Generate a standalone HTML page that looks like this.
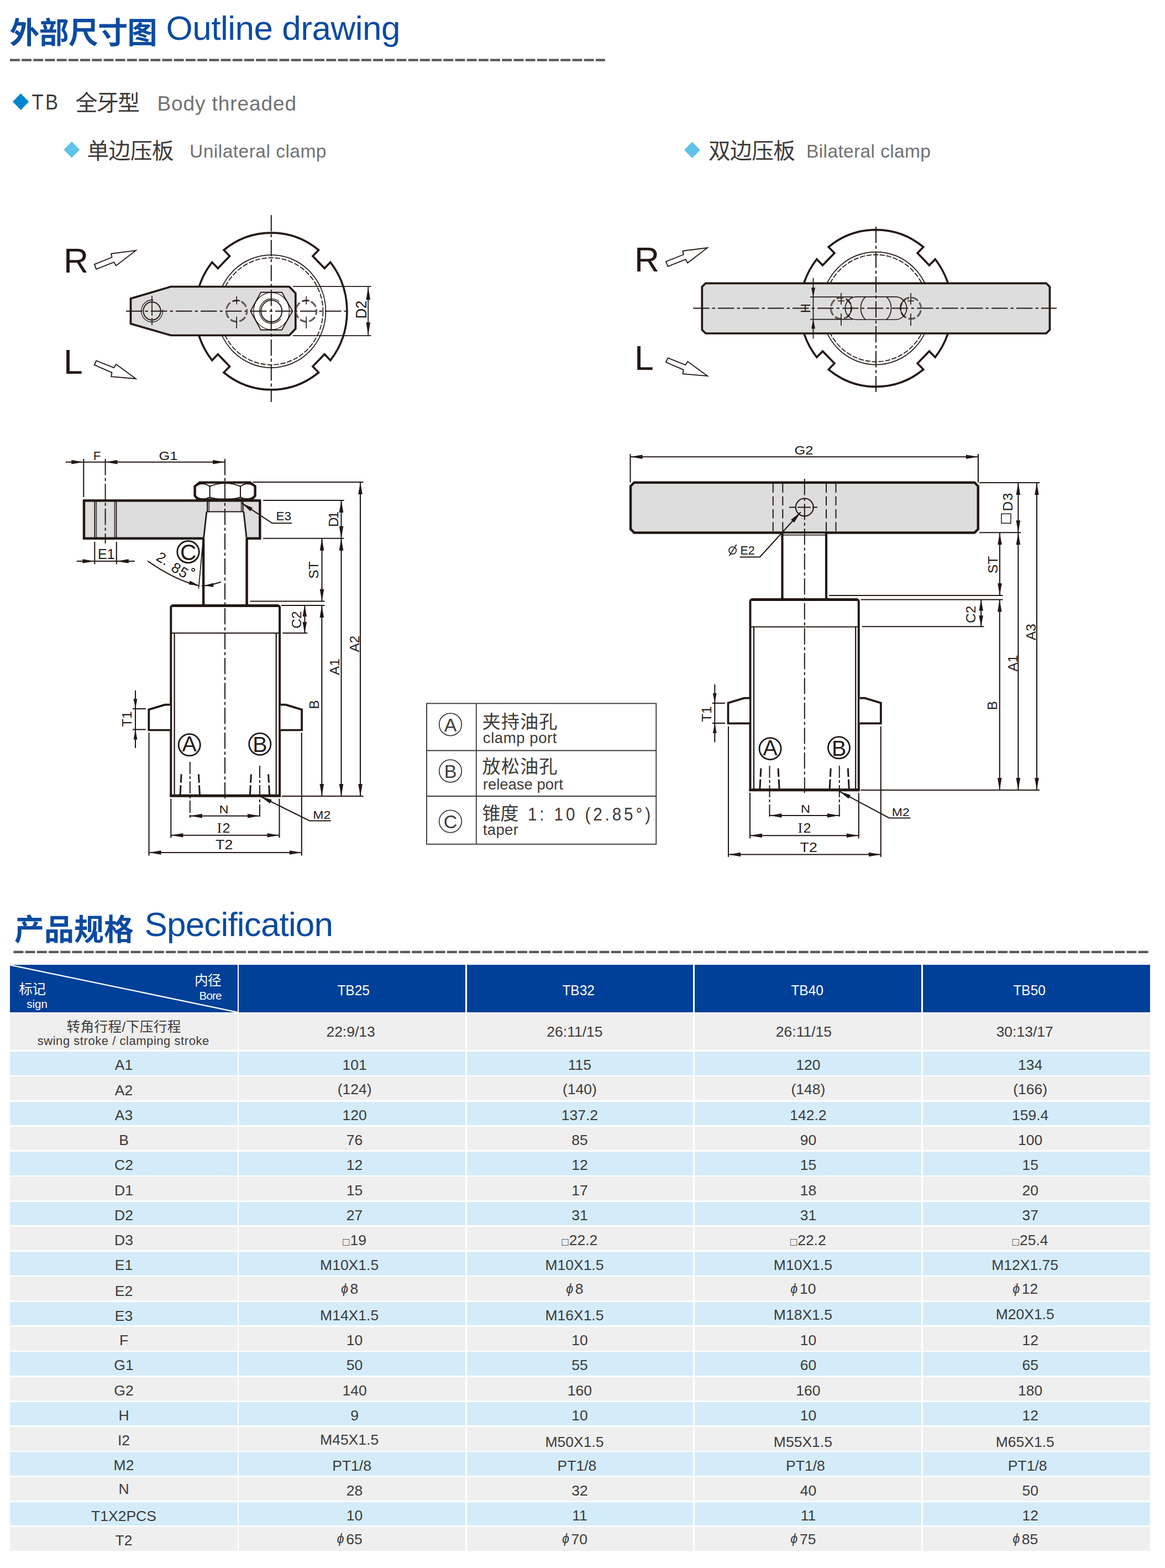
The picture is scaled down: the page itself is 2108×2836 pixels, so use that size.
<!DOCTYPE html>
<html lang="zh"><head><meta charset="utf-8"><title>TB Outline drawing / Specification</title>
<style>
html,body{margin:0;padding:0;background:#fff;}
body{width:2108px;height:2836px;position:relative;overflow:hidden;font-family:"Liberation Sans","Noto Sans CJK SC",sans-serif;color:#3e3a39;}
#page{position:absolute;left:0;top:0;width:2108px;height:2836px;}
#ov{position:absolute;left:0;top:0;}
#ov text{font-family:"Liberation Sans","Noto Sans CJK SC",sans-serif;}
.r{position:absolute;left:18px;width:2063px;}
.c{position:absolute;top:0;height:100%;display:flex;align-items:center;justify-content:center;font-size:26.5px;white-space:nowrap;}
.g .c{background:#efefef;}
.b .c{background:#d4ecfa;}
.h .c{background:#004098;color:#fff;}
.c span{position:relative;display:inline-block;}
.p{font-size:23.5px;margin-right:3.5px;position:relative;top:-1.5px;}
.m{font-weight:normal;}
.h .c span{transform:scaleX(.925);}
.q{font-style:normal;font-size:20px;margin-right:1px;position:relative;top:0.5px;}
</style></head><body>
<div id="page">
<div class="r h" style="top:1745.3px;height:85.5px"><div class="c" style="left:0.2px;width:411.7px;padding-top:7px;box-sizing:border-box;font-size:26.5px;"><span></span></div><div class="c" style="left:414px;width:410.4px;padding-top:7px;box-sizing:border-box;font-size:26.5px;"><span style="left:2.4px;top:0px">TB25</span></div><div class="c" style="left:827.1px;width:409.1px;padding-top:7px;box-sizing:border-box;font-size:26.5px;"><span style="left:-2.7px;top:0px">TB32</span></div><div class="c" style="left:1238.8px;width:410.4px;padding-top:7px;box-sizing:border-box;font-size:26.5px;"><span style="left:-1.6px;top:0px">TB40</span></div><div class="c" style="left:1652px;width:411px;padding-top:7px;box-sizing:border-box;font-size:26.5px;"><span style="left:-13.3px;top:0px">TB50</span></div></div>
<div class="r g" style="top:1833.6px;height:65.5px"><div class="c" style="left:0.2px;width:411.7px;padding-top:1px;box-sizing:border-box;font-size:26.5px;"><span></span></div><div class="c" style="left:414px;width:410.4px;padding-top:1px;box-sizing:border-box;font-size:26.5px;"><span style="left:-2.6px;top:0px">22:9/13</span></div><div class="c" style="left:827.1px;width:409.1px;padding-top:1px;box-sizing:border-box;font-size:26.5px;"><span style="left:-9.7px;top:0px">26:11/15</span></div><div class="c" style="left:1238.8px;width:410.4px;padding-top:1px;box-sizing:border-box;font-size:26.5px;"><span style="left:-7.6px;top:0px">26:11/15</span></div><div class="c" style="left:1652px;width:411px;padding-top:1px;box-sizing:border-box;font-size:26.5px;"><span style="left:-21.3px;top:0px">30:13/17</span></div></div>
<div class="r b" style="top:1902px;height:42.6px"><div class="c" style="left:0.2px;width:411.7px;padding-top:7px;box-sizing:border-box;"><span>A1</span></div><div class="c" style="left:414px;width:410.4px;padding-top:7px;box-sizing:border-box;"><span style="left:4.4px;top:0px">101</span></div><div class="c" style="left:827.1px;width:409.1px;padding-top:7px;box-sizing:border-box;"><span style="left:-0.7px;top:0px">115</span></div><div class="c" style="left:1238.8px;width:410.4px;padding-top:7px;box-sizing:border-box;"><span style="left:0.4px;top:0px">120</span></div><div class="c" style="left:1652px;width:411px;padding-top:7px;box-sizing:border-box;"><span style="left:-11.3px;top:0px">134</span></div></div>
<div class="r g" style="top:1947.3px;height:42.6px"><div class="c" style="left:0.2px;width:411.7px;padding-top:7px;box-sizing:border-box;"><span>A2</span></div><div class="c" style="left:414px;width:410.4px;padding-top:7px;box-sizing:border-box;"><span style="left:4.4px;top:-2px">(124)</span></div><div class="c" style="left:827.1px;width:409.1px;padding-top:7px;box-sizing:border-box;"><span style="left:-0.7px;top:-2px">(140)</span></div><div class="c" style="left:1238.8px;width:410.4px;padding-top:7px;box-sizing:border-box;"><span style="left:0.4px;top:-2px">(148)</span></div><div class="c" style="left:1652px;width:411px;padding-top:7px;box-sizing:border-box;"><span style="left:-11.3px;top:-2px">(166)</span></div></div>
<div class="r b" style="top:1992.5px;height:42.6px"><div class="c" style="left:0.2px;width:411.7px;padding-top:7px;box-sizing:border-box;"><span>A3</span></div><div class="c" style="left:414px;width:410.4px;padding-top:7px;box-sizing:border-box;"><span style="left:4.4px;top:0px">120</span></div><div class="c" style="left:827.1px;width:409.1px;padding-top:7px;box-sizing:border-box;"><span style="left:-0.7px;top:0px">137.2</span></div><div class="c" style="left:1238.8px;width:410.4px;padding-top:7px;box-sizing:border-box;"><span style="left:0.4px;top:0px">142.2</span></div><div class="c" style="left:1652px;width:411px;padding-top:7px;box-sizing:border-box;"><span style="left:-11.3px;top:0px">159.4</span></div></div>
<div class="r g" style="top:2037.8px;height:42.6px"><div class="c" style="left:0.2px;width:411.7px;padding-top:7px;box-sizing:border-box;"><span>B</span></div><div class="c" style="left:414px;width:410.4px;padding-top:7px;box-sizing:border-box;"><span style="left:4.4px;top:0px">76</span></div><div class="c" style="left:827.1px;width:409.1px;padding-top:7px;box-sizing:border-box;"><span style="left:-0.7px;top:0px">85</span></div><div class="c" style="left:1238.8px;width:410.4px;padding-top:7px;box-sizing:border-box;"><span style="left:0.4px;top:0px">90</span></div><div class="c" style="left:1652px;width:411px;padding-top:7px;box-sizing:border-box;"><span style="left:-11.3px;top:0px">100</span></div></div>
<div class="r b" style="top:2083.1px;height:42.6px"><div class="c" style="left:0.2px;width:411.7px;padding-top:7px;box-sizing:border-box;"><span>C2</span></div><div class="c" style="left:414px;width:410.4px;padding-top:7px;box-sizing:border-box;"><span style="left:4.4px;top:0px">12</span></div><div class="c" style="left:827.1px;width:409.1px;padding-top:7px;box-sizing:border-box;"><span style="left:-0.7px;top:0px">12</span></div><div class="c" style="left:1238.8px;width:410.4px;padding-top:7px;box-sizing:border-box;"><span style="left:0.4px;top:0px">15</span></div><div class="c" style="left:1652px;width:411px;padding-top:7px;box-sizing:border-box;"><span style="left:-11.3px;top:0px">15</span></div></div>
<div class="r g" style="top:2128.3px;height:42.6px"><div class="c" style="left:0.2px;width:411.7px;padding-top:7px;box-sizing:border-box;"><span>D1</span></div><div class="c" style="left:414px;width:410.4px;padding-top:7px;box-sizing:border-box;"><span style="left:4.4px;top:0px">15</span></div><div class="c" style="left:827.1px;width:409.1px;padding-top:7px;box-sizing:border-box;"><span style="left:-0.7px;top:0px">17</span></div><div class="c" style="left:1238.8px;width:410.4px;padding-top:7px;box-sizing:border-box;"><span style="left:0.4px;top:0px">18</span></div><div class="c" style="left:1652px;width:411px;padding-top:7px;box-sizing:border-box;"><span style="left:-11.3px;top:0px">20</span></div></div>
<div class="r b" style="top:2173.6px;height:42.6px"><div class="c" style="left:0.2px;width:411.7px;padding-top:7px;box-sizing:border-box;"><span>D2</span></div><div class="c" style="left:414px;width:410.4px;padding-top:7px;box-sizing:border-box;"><span style="left:4.4px;top:0px">27</span></div><div class="c" style="left:827.1px;width:409.1px;padding-top:7px;box-sizing:border-box;"><span style="left:-0.7px;top:0px">31</span></div><div class="c" style="left:1238.8px;width:410.4px;padding-top:7px;box-sizing:border-box;"><span style="left:0.4px;top:0px">31</span></div><div class="c" style="left:1652px;width:411px;padding-top:7px;box-sizing:border-box;"><span style="left:-11.3px;top:0px">37</span></div></div>
<div class="r g" style="top:2218.9px;height:42.6px"><div class="c" style="left:0.2px;width:411.7px;padding-top:7px;box-sizing:border-box;"><span>D3</span></div><div class="c" style="left:414px;width:410.4px;padding-top:7px;box-sizing:border-box;"><span style="left:4.4px;top:0px"><i class="q">□</i>19</span></div><div class="c" style="left:827.1px;width:409.1px;padding-top:7px;box-sizing:border-box;"><span style="left:-0.7px;top:0px"><i class="q">□</i>22.2</span></div><div class="c" style="left:1238.8px;width:410.4px;padding-top:7px;box-sizing:border-box;"><span style="left:0.4px;top:0px"><i class="q">□</i>22.2</span></div><div class="c" style="left:1652px;width:411px;padding-top:7px;box-sizing:border-box;"><span style="left:-11.3px;top:0px"><i class="q">□</i>25.4</span></div></div>
<div class="r b" style="top:2264.2px;height:42.6px"><div class="c" style="left:0.2px;width:411.7px;padding-top:7px;box-sizing:border-box;"><span>E1</span></div><div class="c" style="left:414px;width:410.4px;padding-top:7px;box-sizing:border-box;"><span style="left:-5.1px;top:0px"><b class="m">M10X1.5</b></span></div><div class="c" style="left:827.1px;width:409.1px;padding-top:7px;box-sizing:border-box;"><span style="left:-10.2px;top:0px"><b class="m">M10X1.5</b></span></div><div class="c" style="left:1238.8px;width:410.4px;padding-top:7px;box-sizing:border-box;"><span style="left:-9.1px;top:0px"><b class="m">M10X1.5</b></span></div><div class="c" style="left:1652px;width:411px;padding-top:7px;box-sizing:border-box;"><span style="left:-20.8px;top:0px"><b class="m">M12X1.75</b></span></div></div>
<div class="r g" style="top:2309.4px;height:42.6px"><div class="c" style="left:0.2px;width:411.7px;padding-top:7px;box-sizing:border-box;"><span style="left:0px;top:1px">E2</span></div><div class="c" style="left:414px;width:410.4px;padding-top:7px;box-sizing:border-box;"><span style="left:-4.6px;top:-2.5px"><i class="p">ϕ</i>8</span></div><div class="c" style="left:827.1px;width:409.1px;padding-top:7px;box-sizing:border-box;"><span style="left:-9.7px;top:-2.5px"><i class="p">ϕ</i>8</span></div><div class="c" style="left:1238.8px;width:410.4px;padding-top:7px;box-sizing:border-box;"><span style="left:-8.6px;top:-2.5px"><i class="p">ϕ</i>10</span></div><div class="c" style="left:1652px;width:411px;padding-top:7px;box-sizing:border-box;"><span style="left:-20.3px;top:-2.5px"><i class="p">ϕ</i>12</span></div></div>
<div class="r b" style="top:2354.7px;height:42.6px"><div class="c" style="left:0.2px;width:411.7px;padding-top:7px;box-sizing:border-box;"><span style="left:0px;top:1px">E3</span></div><div class="c" style="left:414px;width:410.4px;padding-top:7px;box-sizing:border-box;"><span style="left:-5.1px;top:0px"><b class="m">M14X1.5</b></span></div><div class="c" style="left:827.1px;width:409.1px;padding-top:7px;box-sizing:border-box;"><span style="left:-10.2px;top:0px"><b class="m">M16X1.5</b></span></div><div class="c" style="left:1238.8px;width:410.4px;padding-top:7px;box-sizing:border-box;"><span style="left:-9.1px;top:-1px"><b class="m">M18X1.5</b></span></div><div class="c" style="left:1652px;width:411px;padding-top:7px;box-sizing:border-box;"><span style="left:-20.8px;top:-1.5px"><b class="m">M20X1.5</b></span></div></div>
<div class="r g" style="top:2400px;height:42.6px"><div class="c" style="left:0.2px;width:411.7px;padding-top:7px;box-sizing:border-box;"><span>F</span></div><div class="c" style="left:414px;width:410.4px;padding-top:7px;box-sizing:border-box;"><span style="left:4.4px;top:0px">10</span></div><div class="c" style="left:827.1px;width:409.1px;padding-top:7px;box-sizing:border-box;"><span style="left:-0.7px;top:0px">10</span></div><div class="c" style="left:1238.8px;width:410.4px;padding-top:7px;box-sizing:border-box;"><span style="left:0.4px;top:0px">10</span></div><div class="c" style="left:1652px;width:411px;padding-top:7px;box-sizing:border-box;"><span style="left:-11.3px;top:0px">12</span></div></div>
<div class="r b" style="top:2445.2px;height:42.6px"><div class="c" style="left:0.2px;width:411.7px;padding-top:7px;box-sizing:border-box;"><span>G1</span></div><div class="c" style="left:414px;width:410.4px;padding-top:7px;box-sizing:border-box;"><span style="left:4.4px;top:0px">50</span></div><div class="c" style="left:827.1px;width:409.1px;padding-top:7px;box-sizing:border-box;"><span style="left:-0.7px;top:0px">55</span></div><div class="c" style="left:1238.8px;width:410.4px;padding-top:7px;box-sizing:border-box;"><span style="left:0.4px;top:0px">60</span></div><div class="c" style="left:1652px;width:411px;padding-top:7px;box-sizing:border-box;"><span style="left:-11.3px;top:0px">65</span></div></div>
<div class="r g" style="top:2490.5px;height:42.6px"><div class="c" style="left:0.2px;width:411.7px;padding-top:7px;box-sizing:border-box;"><span>G2</span></div><div class="c" style="left:414px;width:410.4px;padding-top:7px;box-sizing:border-box;"><span style="left:4.4px;top:0px">140</span></div><div class="c" style="left:827.1px;width:409.1px;padding-top:7px;box-sizing:border-box;"><span style="left:-0.7px;top:0px">160</span></div><div class="c" style="left:1238.8px;width:410.4px;padding-top:7px;box-sizing:border-box;"><span style="left:0.4px;top:0px">160</span></div><div class="c" style="left:1652px;width:411px;padding-top:7px;box-sizing:border-box;"><span style="left:-11.3px;top:0px">180</span></div></div>
<div class="r b" style="top:2535.8px;height:42.6px"><div class="c" style="left:0.2px;width:411.7px;padding-top:7px;box-sizing:border-box;"><span>H</span></div><div class="c" style="left:414px;width:410.4px;padding-top:7px;box-sizing:border-box;"><span style="left:4.4px;top:0px">9</span></div><div class="c" style="left:827.1px;width:409.1px;padding-top:7px;box-sizing:border-box;"><span style="left:-0.7px;top:0px">10</span></div><div class="c" style="left:1238.8px;width:410.4px;padding-top:7px;box-sizing:border-box;"><span style="left:0.4px;top:0px">10</span></div><div class="c" style="left:1652px;width:411px;padding-top:7px;box-sizing:border-box;"><span style="left:-11.3px;top:0px">12</span></div></div>
<div class="r g" style="top:2581.1px;height:42.6px"><div class="c" style="left:0.2px;width:411.7px;padding-top:7px;box-sizing:border-box;"><span>I2</span></div><div class="c" style="left:414px;width:410.4px;padding-top:7px;box-sizing:border-box;"><span style="left:-5.1px;top:-1px"><b class="m">M45X1.5</b></span></div><div class="c" style="left:827.1px;width:409.1px;padding-top:7px;box-sizing:border-box;"><span style="left:-10.2px;top:2.5px"><b class="m">M50X1.5</b></span></div><div class="c" style="left:1238.8px;width:410.4px;padding-top:7px;box-sizing:border-box;"><span style="left:-9.1px;top:2.5px"><b class="m">M55X1.5</b></span></div><div class="c" style="left:1652px;width:411px;padding-top:7px;box-sizing:border-box;"><span style="left:-20.8px;top:2.5px"><b class="m">M65X1.5</b></span></div></div>
<div class="r b" style="top:2626.3px;height:42.6px"><div class="c" style="left:0.2px;width:411.7px;padding-top:7px;box-sizing:border-box;"><span style="left:0px;top:-1px">M2</span></div><div class="c" style="left:414px;width:410.4px;padding-top:7px;box-sizing:border-box;"><span style="left:-0.6px;top:0px">PT1/8</span></div><div class="c" style="left:827.1px;width:409.1px;padding-top:7px;box-sizing:border-box;"><span style="left:-5.7px;top:0px">PT1/8</span></div><div class="c" style="left:1238.8px;width:410.4px;padding-top:7px;box-sizing:border-box;"><span style="left:-4.6px;top:0px">PT1/8</span></div><div class="c" style="left:1652px;width:411px;padding-top:7px;box-sizing:border-box;"><span style="left:-16.3px;top:0px">PT1/8</span></div></div>
<div class="r g" style="top:2671.6px;height:42.6px"><div class="c" style="left:0.2px;width:411.7px;padding-top:7px;box-sizing:border-box;"><span style="left:0px;top:-3px">N</span></div><div class="c" style="left:414px;width:410.4px;padding-top:7px;box-sizing:border-box;"><span style="left:4.4px;top:0px">28</span></div><div class="c" style="left:827.1px;width:409.1px;padding-top:7px;box-sizing:border-box;"><span style="left:-0.7px;top:0px">32</span></div><div class="c" style="left:1238.8px;width:410.4px;padding-top:7px;box-sizing:border-box;"><span style="left:0.4px;top:0px">40</span></div><div class="c" style="left:1652px;width:411px;padding-top:7px;box-sizing:border-box;"><span style="left:-11.3px;top:0px">50</span></div></div>
<div class="r b" style="top:2716.9px;height:42.6px"><div class="c" style="left:0.2px;width:411.7px;padding-top:7px;box-sizing:border-box;"><span style="left:0px;top:1px">T1X2PCS</span></div><div class="c" style="left:414px;width:410.4px;padding-top:7px;box-sizing:border-box;"><span style="left:4.4px;top:0px">10</span></div><div class="c" style="left:827.1px;width:409.1px;padding-top:7px;box-sizing:border-box;"><span style="left:-0.7px;top:0px">11</span></div><div class="c" style="left:1238.8px;width:410.4px;padding-top:7px;box-sizing:border-box;"><span style="left:0.4px;top:0px">11</span></div><div class="c" style="left:1652px;width:411px;padding-top:7px;box-sizing:border-box;"><span style="left:-11.3px;top:0px">12</span></div></div>
<div class="r g" style="top:2762.1px;height:42.6px"><div class="c" style="left:0.2px;width:411.7px;padding-top:7px;box-sizing:border-box;"><span>T2</span></div><div class="c" style="left:414px;width:410.4px;padding-top:7px;box-sizing:border-box;"><span style="left:-4.6px;top:-2.5px"><i class="p">ϕ</i>65</span></div><div class="c" style="left:827.1px;width:409.1px;padding-top:7px;box-sizing:border-box;"><span style="left:-9.7px;top:-2.5px"><i class="p">ϕ</i>70</span></div><div class="c" style="left:1238.8px;width:410.4px;padding-top:7px;box-sizing:border-box;"><span style="left:-8.6px;top:-2.5px"><i class="p">ϕ</i>75</span></div><div class="c" style="left:1652px;width:411px;padding-top:7px;box-sizing:border-box;"><span style="left:-20.3px;top:-2.5px"><i class="p">ϕ</i>85</span></div></div>
<svg id="ov" width="2108" height="2836" viewBox="0 0 2108 2836">
<text x="17.5" y="79" font-size="54" font-weight="bold" fill="#0b4ba0" textLength="267" lengthAdjust="spacing">外部尺寸图</text>
<text x="300.5" y="72" font-size="62" fill="#0b4ba0" textLength="424" lengthAdjust="spacing">Outline drawing</text>
<line x1="17.9" y1="108.6" x2="1094.8" y2="108.6" stroke="#595757" stroke-width="4.2" stroke-dasharray="17.9 3.3"/>
<path d="M37.6 169 L52.2 184 L37.6 199 L23 184 Z" fill="#0085d0"/>
<text transform="translate(57.5 197.6) scale(0.885 1)" font-size="39" fill="#3e3a39" letter-spacing="4">TB</text>
<text x="136.5" y="199.5" font-size="40" fill="#3e3a39" textLength="116.5" lengthAdjust="spacing">全牙型</text>
<text x="284.5" y="199.8" font-size="37" fill="#727171" textLength="251.5" lengthAdjust="spacing">Body threaded</text>
<path d="M129.8 256 L144.2 270.8 L129.8 285.6 L115.4 270.8 Z" fill="#5ec2ea"/>
<text x="157.5" y="287" font-size="39.8" fill="#3e3a39" textLength="157" lengthAdjust="spacing">单边压板</text>
<text x="343" y="285" font-size="33.5" fill="#727171" textLength="247.5" lengthAdjust="spacing">Unilateral clamp</text>
<path d="M1252.5 256.5 L1266.9 271.3 L1252.5 286.1 L1238.1 271.3 Z" fill="#5ec2ea"/>
<text x="1282" y="287" font-size="39.8" fill="#3e3a39" textLength="157" lengthAdjust="spacing">双边压板</text>
<text x="1459" y="285" font-size="33.5" fill="#727171" textLength="225" lengthAdjust="spacing">Bilateral clamp</text>
<text x="26" y="1700.5" font-size="54" font-weight="bold" fill="#0b4ba0" textLength="216" lengthAdjust="spacing">产品规格</text>
<text x="261.5" y="1693" font-size="62" fill="#0b4ba0" textLength="341.5" lengthAdjust="spacing">Specification</text>
<line x1="24.5" y1="1721.8" x2="2079" y2="1721.8" stroke="#595757" stroke-width="4.2" stroke-dasharray="17.9 3.3"/>
<g transform="translate(490.8 563) scale(0.967 1) translate(-490.8 -563)">
<path d="M601.5 651.7 L590.5 640.7 L568.5 662.8 L579.4 673.8 A141.9 141.9 0 0 1 402.1 673.8 L413 662.8 L391 640.7 L380 651.7 A141.9 141.9 0 0 1 380 474.3 L391 485.3 L413 463.2 L402.1 452.2 A141.9 141.9 0 0 1 579.4 452.2 L568.5 463.2 L590.5 485.3 L601.5 474.3 A141.9 141.9 0 0 1 601.5 651.7 Z" fill="none" stroke="#231815" stroke-width="3.7" stroke-linejoin="miter"/>
<circle cx="490.8" cy="563" r="102" fill="none" stroke="#231815" stroke-width="1.75"/>
<circle cx="490.8" cy="563" r="96.8" fill="none" stroke="#231815" stroke-width="1.75" stroke-dasharray="9.5 3"/>
</g>
<path d="M236.5 540 L309 518.5 L523.5 518.5 L534.8 530.5 L534.8 594.5 L523.5 606.5 L309 606.5 L236.5 585.5 Z" fill="#dddddd" stroke="#231815" stroke-width="3.7" stroke-linejoin="miter"/>
<path d="M453.3 562.7 L472 528.8 L510 528.8 L529.3 562.7 L510 596.8 L472 596.8 Z" fill="#fff" stroke="#231815" stroke-width="1.86" stroke-linejoin="miter"/>
<g transform="translate(491.2 562.7) scale(0.967 1) translate(-491.2 -562.7)">
<circle cx="491.2" cy="562.7" r="33.5" fill="none" stroke="#231815" stroke-width="1.3"/>
<circle cx="491.2" cy="562.7" r="19.6" fill="none" stroke="#231815" stroke-width="1.97"/>
<path d="M508.3 577 A22.3 22.3 0 1 1 505.5 545.6" fill="none" stroke="#231815" stroke-width="1.3"/>
</g>
<line x1="228" y1="562.7" x2="633" y2="562.7" stroke="#231815" stroke-width="2.02" stroke-dasharray="29.5 5 5.5 5"/>
<line x1="490.8" y1="389" x2="490.8" y2="727" stroke="#231815" stroke-width="2.02" stroke-dasharray="29.5 5 5.5 5"/>
<g transform="translate(275 562.5) scale(0.967 1) translate(-275 -562.5)">
<circle cx="275" cy="562.5" r="16.2" fill="none" stroke="#231815" stroke-width="1.97"/>
<path d="M294.8 559.8 A20 20 0 1 1 277.7 542.7" fill="none" stroke="#231815" stroke-width="1.3"/>
</g>
<line x1="275" y1="535" x2="275" y2="571" stroke="#231815" stroke-width="1.66"/>
<line x1="275" y1="575" x2="275" y2="588" stroke="#231815" stroke-width="1.66"/>
<g transform="translate(428.2 562.5) scale(0.967 1) translate(-428.2 -562.5)">
<circle cx="428.2" cy="562.5" r="19.2" fill="none" stroke="#231815" stroke-width="2.85" stroke-dasharray="13 4.5" stroke-dashoffset="6"/>
<circle cx="428.2" cy="562.5" r="19.2" fill="none" stroke="#c8c8c8" stroke-width="0.9" stroke-dasharray="12 5.5" stroke-dashoffset="5.5"/>
</g>
<line x1="428.2" y1="536" x2="428.2" y2="550.5" stroke="#231815" stroke-width="1.66"/>
<line x1="428.2" y1="572.5" x2="428.2" y2="594" stroke="#231815" stroke-width="1.66"/>
<line x1="422.2" y1="544" x2="434.2" y2="544" stroke="#231815" stroke-width="1.66"/>
<g transform="translate(554.2 562.5) scale(0.967 1) translate(-554.2 -562.5)">
<circle cx="554.2" cy="562.5" r="19.2" fill="none" stroke="#231815" stroke-width="2.85" stroke-dasharray="13 4.5" stroke-dashoffset="6"/>
<circle cx="554.2" cy="562.5" r="19.2" fill="none" stroke="#c8c8c8" stroke-width="0.9" stroke-dasharray="12 5.5" stroke-dashoffset="5.5"/>
</g>
<line x1="554.2" y1="536" x2="554.2" y2="550.5" stroke="#231815" stroke-width="1.66"/>
<line x1="554.2" y1="572.5" x2="554.2" y2="594" stroke="#231815" stroke-width="1.66"/>
<line x1="548.2" y1="544" x2="560.2" y2="544" stroke="#231815" stroke-width="1.66"/>
<line x1="530" y1="518.2" x2="671.5" y2="518.2" stroke="#231815" stroke-width="1.75"/>
<line x1="530" y1="607" x2="671.5" y2="607" stroke="#231815" stroke-width="1.75"/>
<line x1="666.2" y1="518.2" x2="666.2" y2="607" stroke="#231815" stroke-width="1.75"/>
<path d="M666.2 518.2 L670 542.2 L662.5 542.2 Z" fill="#231815"/>
<path d="M666.2 607 L662.5 583 L670 583 Z" fill="#231815"/>
<text transform="translate(662.5 560) rotate(-90) scale(0.93 1)" font-size="27.5" fill="#231815" text-anchor="middle">D2</text>
<text x="115" y="493" font-size="62.5" fill="#231815">R</text>
<text x="115" y="676" font-size="62.5" fill="#231815">L</text>
<path d="M170.8 478.2 L202.5 465.5 L201.2 458.8 L245.8 453.2 L210 480.5 L206.2 474.2 L174.2 486.8 Z" fill="#fff" stroke="#231815" stroke-width="1.86" stroke-linejoin="miter"/>
<path d="M170.8 660 L174.2 652.5 L206.2 665 L210 658.8 L245.8 685 L201.2 681.2 L202.5 673.8 Z" fill="#fff" stroke="#231815" stroke-width="1.86" stroke-linejoin="miter"/>
<g transform="translate(1585 557.5) scale(0.967 1) translate(-1585 -557.5)">
<path d="M1695.8 646.2 L1684.8 635.2 L1662.7 657.3 L1673.7 668.3 A141.9 141.9 0 0 1 1496.3 668.3 L1507.3 657.3 L1485.2 635.2 L1474.2 646.2 A141.9 141.9 0 0 1 1474.2 468.8 L1485.2 479.8 L1507.3 457.7 L1496.3 446.7 A141.9 141.9 0 0 1 1673.7 446.7 L1662.7 457.7 L1684.8 479.8 L1695.8 468.8 A141.9 141.9 0 0 1 1695.8 646.2 Z" fill="none" stroke="#231815" stroke-width="3.7" stroke-linejoin="miter"/>
<circle cx="1585" cy="557.5" r="102" fill="none" stroke="#231815" stroke-width="1.75"/>
<circle cx="1585" cy="557.5" r="96.8" fill="none" stroke="#231815" stroke-width="1.75" stroke-dasharray="9.5 3"/>
</g>
<path d="M1276.8 512.3 L1893 512.3 L1899.5 518.8 L1899.5 596.5 L1893 603 L1276.8 603 L1270.3 596.5 L1270.3 518.8 Z" fill="#dddddd" stroke="#231815" stroke-width="3.7" stroke-linejoin="miter"/>
<line x1="1254" y1="557.5" x2="1912" y2="557.5" stroke="#231815" stroke-width="2.02" stroke-dasharray="29.5 5 5.5 5"/>
<line x1="1585" y1="410" x2="1585" y2="709" stroke="#231815" stroke-width="2.02" stroke-dasharray="29.5 5 5.5 5"/>
<path d="M1548.5 536.9 L1621.5 536.9 A20.6 20.6 0 0 1 1621.5 578 L1548.5 578 A20.6 20.6 0 0 1 1548.5 536.9 Z" fill="none" stroke="#231815" stroke-width="1.66"/>
<path d="M1565.9 536.9 A27.6 28.5 0 0 0 1565.9 578" fill="none" stroke="#231815" stroke-width="1.66"/>
<path d="M1604.1 536.9 A27.6 28.5 0 0 1 1604.1 578" fill="none" stroke="#231815" stroke-width="1.66"/>
<g transform="translate(1522 557.5) scale(0.967 1) translate(-1522 -557.5)">
<circle cx="1522" cy="557.5" r="19.2" fill="none" stroke="#231815" stroke-width="2.85" stroke-dasharray="13 4.5" stroke-dashoffset="6"/>
<circle cx="1522" cy="557.5" r="19.2" fill="none" stroke="#c8c8c8" stroke-width="0.9" stroke-dasharray="12 5.5" stroke-dashoffset="5.5"/>
<path d="M1533 541.8 A19.2 19.2 0 0 1 1533 573.2" fill="none" stroke="#231815" stroke-width="1.66"/>
</g>
<line x1="1522" y1="530" x2="1522" y2="551" stroke="#231815" stroke-width="1.66"/>
<line x1="1522" y1="567" x2="1522" y2="589" stroke="#231815" stroke-width="1.66"/>
<line x1="1516" y1="544.3" x2="1528" y2="544.3" stroke="#231815" stroke-width="1.66"/>
<g transform="translate(1648 557.5) scale(0.967 1) translate(-1648 -557.5)">
<circle cx="1648" cy="557.5" r="19.2" fill="none" stroke="#231815" stroke-width="2.85" stroke-dasharray="13 4.5" stroke-dashoffset="66"/>
<circle cx="1648" cy="557.5" r="19.2" fill="none" stroke="#c8c8c8" stroke-width="0.9" stroke-dasharray="12 5.5" stroke-dashoffset="65.5"/>
<path d="M1637 541.8 A19.2 19.2 0 0 0 1637 573.2" fill="none" stroke="#231815" stroke-width="1.66"/>
</g>
<line x1="1648" y1="530" x2="1648" y2="551" stroke="#231815" stroke-width="1.66"/>
<line x1="1648" y1="567" x2="1648" y2="589" stroke="#231815" stroke-width="1.66"/>
<line x1="1642" y1="544.3" x2="1654" y2="544.3" stroke="#231815" stroke-width="1.66"/>
<line x1="1466" y1="537.2" x2="1543" y2="537.2" stroke="#231815" stroke-width="1.75"/>
<line x1="1466" y1="577.5" x2="1543" y2="577.5" stroke="#231815" stroke-width="1.75"/>
<line x1="1471.5" y1="502.5" x2="1471.5" y2="612.5" stroke="#231815" stroke-width="1.75"/>
<path d="M1471.5 537.2 L1468 520.2 L1475 520.2 Z" fill="#231815"/>
<path d="M1471.5 577.5 L1475 594.5 L1468 594.5 Z" fill="#231815"/>
<text transform="translate(1466.3 557.5) rotate(-90)" font-size="24" fill="#231815" text-anchor="middle">H</text>
<text x="1148" y="490.5" font-size="62.5" fill="#231815">R</text>
<text x="1148" y="669" font-size="62.5" fill="#231815">L</text>
<path d="M1205 473.2 L1236.8 460.5 L1235.5 453.8 L1280 448.2 L1244.2 475.5 L1240.5 469.2 L1208.5 481.8 Z" fill="#fff" stroke="#231815" stroke-width="1.86" stroke-linejoin="miter"/>
<path d="M1205 655 L1208.5 647.5 L1240.5 660 L1244.2 653.8 L1280 680 L1235.5 676.2 L1236.8 668.8 Z" fill="#fff" stroke="#231815" stroke-width="1.86" stroke-linejoin="miter"/>
<rect x="152" y="905.4" width="318.3" height="68.4" fill="#dddddd" stroke="#231815" stroke-width="4.44"/>
<line x1="171.4" y1="906" x2="171.4" y2="973" stroke="#231815" stroke-width="1.94"/>
<line x1="174.4" y1="906" x2="174.4" y2="973" stroke="#231815" stroke-width="1.4"/>
<line x1="207.4" y1="906" x2="207.4" y2="973" stroke="#231815" stroke-width="1.4"/>
<line x1="210.4" y1="906" x2="210.4" y2="973" stroke="#231815" stroke-width="1.94"/>
<path d="M373.9 925.5 L440.9 925.5 L446.2 975.5 L446.2 1095 L368.8 1095 L368.8 975.5 Z" fill="#fff" stroke="none" stroke-width="0" stroke-linejoin="miter"/>
<rect x="368.8" y="972" width="77.4" height="4" fill="#fff"/>
<line x1="373.9" y1="925.5" x2="440.9" y2="925.5" stroke="#231815" stroke-width="1.78"/>
<path d="M373.9 925.5 L368.3 975.5" fill="none" stroke="#231815" stroke-width="2.76" stroke-linejoin="miter"/>
<line x1="368.1" y1="974" x2="368.1" y2="1095" stroke="#231815" stroke-width="4.44"/>
<path d="M440.9 925.5 L446.4 975.5" fill="none" stroke="#231815" stroke-width="2.76" stroke-linejoin="miter"/>
<line x1="446.6" y1="974" x2="446.6" y2="1095" stroke="#231815" stroke-width="4.44"/>
<line x1="375.2" y1="906" x2="375.2" y2="925.5" stroke="#231815" stroke-width="2.23"/>
<line x1="378.3" y1="906" x2="378.3" y2="925.5" stroke="#231815" stroke-width="1.4"/>
<line x1="436.6" y1="906" x2="436.6" y2="925.5" stroke="#231815" stroke-width="1.4"/>
<line x1="439.6" y1="906" x2="439.6" y2="925.5" stroke="#231815" stroke-width="2.23"/>
<path d="M361.5 872.6 L452.5 872.6 L461.6 879.5 L461.6 896.5 L455.5 903.8 L358.5 903.8 L352.6 896.5 L352.6 879.5 Z" fill="#fff" stroke="#231815" stroke-width="4.44" stroke-linejoin="miter"/>
<line x1="379.6" y1="879" x2="379.6" y2="900" stroke="#231815" stroke-width="2.1"/>
<line x1="435" y1="879" x2="435" y2="900" stroke="#231815" stroke-width="2.1"/>
<path d="M379.6 879.5 Q407.3 868.5 435 879.5" fill="none" stroke="#231815" stroke-width="2.1"/>
<path d="M379.6 899.5 Q407.3 907.5 435 899.5" fill="none" stroke="#231815" stroke-width="2.1"/>
<path d="M354 879.5 Q366 870.5 379.6 879.5" fill="none" stroke="#231815" stroke-width="2.1"/>
<path d="M354 898 Q366 906 379.6 899.5" fill="none" stroke="#231815" stroke-width="2.1"/>
<path d="M460.5 879.5 Q448 870.5 435 879.5" fill="none" stroke="#231815" stroke-width="2.1"/>
<path d="M460.5 898 Q448 906 435 899.5" fill="none" stroke="#231815" stroke-width="2.1"/>
<path d="M309.3 1439.3 L309.3 1098.8 Q309.3 1095.6 312.5 1095.6 L502.9 1095.6 Q506.1 1095.6 506.1 1098.8 L506.1 1439.3 Z" fill="#fff" stroke="#231815" stroke-width="3.95" stroke-linejoin="miter"/>
<line x1="311.3" y1="1095.6" x2="504.1" y2="1095.6" stroke="#231815" stroke-width="4.97"/>
<line x1="307.3" y1="1439.3" x2="508.1" y2="1439.3" stroke="#231815" stroke-width="4.86"/>
<line x1="310" y1="1145" x2="505.5" y2="1145" stroke="#231815" stroke-width="2.1"/>
<line x1="315.6" y1="1145" x2="315.6" y2="1438" stroke="#231815" stroke-width="2.23"/>
<line x1="499.7" y1="1145" x2="499.7" y2="1438" stroke="#231815" stroke-width="2.23"/>
<line x1="368.1" y1="1090" x2="368.1" y2="1096.5" stroke="#231815" stroke-width="4.44"/>
<line x1="446.6" y1="1090" x2="446.6" y2="1096.5" stroke="#231815" stroke-width="4.44"/>
<path d="M307.8 1274.7 L298.3 1274.7 L269.3 1283.5 L269.3 1320.5 L307.8 1320.5" fill="#fff" stroke="#231815" stroke-width="3.74" stroke-linejoin="miter"/>
<path d="M507.6 1274.7 L517.1 1274.7 L546.1 1283.5 L546.1 1320.5 L507.6 1320.5" fill="#fff" stroke="#231815" stroke-width="3.74" stroke-linejoin="miter"/>
<circle cx="342.7" cy="1347.3" r="19.6" fill="none" stroke="#231815" stroke-width="2.76"/>
<text x="342.7" y="1358.8" font-size="39.3" fill="#231815" text-anchor="middle">A</text>
<circle cx="470.3" cy="1345.8" r="19.6" fill="none" stroke="#231815" stroke-width="2.76"/>
<text x="470.3" y="1360" font-size="39.3" fill="#231815" text-anchor="middle">B</text>
<line x1="343.8" y1="1378" x2="343.8" y2="1480.3" stroke="#231815" stroke-width="1.99" stroke-dasharray="22 4 5 4"/>
<path d="M328.1 1400.3 L326.1 1437.3" fill="none" stroke="#231815" stroke-width="3.0" stroke-dasharray="15.5 4.5 20"/>
<path d="M359.4 1400.3 L361.4 1437.3" fill="none" stroke="#231815" stroke-width="3.0" stroke-dasharray="15.5 4.5 20"/>
<line x1="470" y1="1385" x2="470" y2="1480.3" stroke="#231815" stroke-width="1.99" stroke-dasharray="22 4 5 4"/>
<path d="M454.4 1400.3 L452.4 1437.3" fill="none" stroke="#231815" stroke-width="3.0" stroke-dasharray="15.5 4.5 20"/>
<path d="M485.6 1400.3 L487.6 1437.3" fill="none" stroke="#231815" stroke-width="3.0" stroke-dasharray="15.5 4.5 20"/>
<line x1="407" y1="830" x2="407" y2="1444" stroke="#231815" stroke-width="1.99" stroke-dasharray="29.5 5 5.5 5"/>
<line x1="190.6" y1="830" x2="190.6" y2="983" stroke="#231815" stroke-width="1.99" stroke-dasharray="29.5 5 5.5 5"/>
<line x1="151.3" y1="830" x2="151.3" y2="899" stroke="#231815" stroke-width="2.1"/>
<line x1="118.8" y1="835.8" x2="407.5" y2="835.8" stroke="#231815" stroke-width="2.1"/>
<path d="M151.3 835.8 L129.3 839.6 L129.3 832 Z" fill="#231815"/>
<path d="M190.5 835.8 L212.5 832 L212.5 839.6 Z" fill="#231815"/>
<path d="M407 835.8 L385 839.6 L385 832 Z" fill="#231815"/>
<text x="175.5" y="832" font-size="22.5" fill="#231815" text-anchor="middle">F</text>
<text transform="translate(287.5 832) scale(1.13 1)" font-size="22.5" fill="#231815">G1</text>
<line x1="171.3" y1="980" x2="171.3" y2="1020.5" stroke="#231815" stroke-width="2.1"/>
<line x1="210.8" y1="980" x2="210.8" y2="1020.5" stroke="#231815" stroke-width="2.1"/>
<line x1="138.8" y1="1015" x2="243.8" y2="1015" stroke="#231815" stroke-width="2.1"/>
<path d="M171.3 1015 L149.3 1018.8 L149.3 1011.2 Z" fill="#231815"/>
<path d="M210.8 1015 L232.8 1011.2 L232.8 1018.8 Z" fill="#231815"/>
<text x="177" y="1010.8" font-size="25" fill="#231815">E1</text>
<circle cx="340.5" cy="998.2" r="19.7" fill="none" stroke="#231815" stroke-width="2.88"/>
<text x="340.5" y="1012.8" font-size="40.5" fill="#231815" text-anchor="middle">C</text>
<text transform="translate(281 1012.3) rotate(31)" font-size="26" fill="#231815">2.</text>
<text transform="translate(308 1031.3) rotate(31)" font-size="26" fill="#231815" letter-spacing="1.2">85</text>
<circle cx="349.6" cy="1030.6" r="2.6" fill="none" stroke="#231815" stroke-width="1.56"/>
<path d="M267 1014.5 Q316 1049 359.5 1059.5" fill="none" stroke="#231815" stroke-width="2.1"/>
<path d="M400 1052.5 Q382 1059 365 1059.8" fill="none" stroke="#231815" stroke-width="2.1"/>
<path d="M359.8 1059 L341.5 1057.2 L343.6 1050.3 Z" fill="#231815"/>
<path d="M369.7 1059.3 L385.9 1054.6 L386.4 1061.7 Z" fill="#231815"/>
<line x1="367.2" y1="980" x2="359.4" y2="1064.5" stroke="#231815" stroke-width="1.78"/>
<text x="499.5" y="941.3" font-size="22.5" fill="#231815">E3</text>
<path d="M528 946.3 L492.5 946.3 L437.5 910" fill="none" stroke="#231815" stroke-width="2.1"/>
<path d="M437.5 910 L457.1 918.4 L452.9 924.7 Z" fill="#231815"/>
<line x1="457.5" y1="872" x2="657.5" y2="872" stroke="#231815" stroke-width="2.1"/>
<line x1="476.3" y1="905" x2="622.5" y2="905" stroke="#231815" stroke-width="2.1"/>
<line x1="476.3" y1="973.8" x2="622.5" y2="973.8" stroke="#231815" stroke-width="2.1"/>
<line x1="452.5" y1="1087.5" x2="587.5" y2="1087.5" stroke="#231815" stroke-width="2.1"/>
<line x1="508.8" y1="1095" x2="587.5" y2="1095" stroke="#231815" stroke-width="2.1"/>
<line x1="511.3" y1="1145" x2="556.3" y2="1145" stroke="#231815" stroke-width="2.1"/>
<line x1="510" y1="1440" x2="657.5" y2="1440" stroke="#231815" stroke-width="2.1"/>
<line x1="652" y1="872" x2="652" y2="1440" stroke="#231815" stroke-width="2.1"/>
<path d="M652 872 L655.8 894 L648.2 894 Z" fill="#231815"/>
<path d="M652 1440 L648.2 1418 L655.8 1418 Z" fill="#231815"/>
<line x1="617.5" y1="905" x2="617.5" y2="973.8" stroke="#231815" stroke-width="2.1"/>
<path d="M617.5 905 L621.3 927 L613.7 927 Z" fill="#231815"/>
<path d="M617.5 973.8 L613.7 951.8 L621.3 951.8 Z" fill="#231815"/>
<line x1="617.5" y1="973.8" x2="617.5" y2="1440" stroke="#231815" stroke-width="2.1"/>
<path d="M617.5 973.8 L621.3 995.8 L613.7 995.8 Z" fill="#231815"/>
<path d="M617.5 1440 L613.7 1418 L621.3 1418 Z" fill="#231815"/>
<line x1="582.5" y1="973.8" x2="582.5" y2="1087.5" stroke="#231815" stroke-width="2.1"/>
<path d="M582.5 973.8 L586.3 995.8 L578.7 995.8 Z" fill="#231815"/>
<path d="M582.5 1087.5 L578.7 1065.5 L586.3 1065.5 Z" fill="#231815"/>
<line x1="582.3" y1="1095" x2="582.3" y2="1440" stroke="#231815" stroke-width="2.1"/>
<path d="M582.3 1095 L586.1 1117 L578.5 1117 Z" fill="#231815"/>
<path d="M582.3 1440 L578.5 1418 L586.1 1418 Z" fill="#231815"/>
<line x1="551.3" y1="1095" x2="551.3" y2="1145" stroke="#231815" stroke-width="2.1"/>
<path d="M551.3 1095 L555.1 1115 L547.5 1115 Z" fill="#231815"/>
<path d="M551.3 1145 L547.5 1125 L555.1 1125 Z" fill="#231815"/>
<text transform="translate(612 939) rotate(-90)" font-size="24" fill="#231815" text-anchor="middle" textLength="28" lengthAdjust="spacing">D1</text>
<text transform="translate(576.3 1031) rotate(-90)" font-size="24.5" fill="#231815" text-anchor="middle">ST</text>
<text transform="translate(545 1121) rotate(-90)" font-size="24.5" fill="#231815" text-anchor="middle">C2</text>
<text transform="translate(614.4 1206) rotate(-90)" font-size="24.5" fill="#231815" text-anchor="middle">A1</text>
<text transform="translate(649.8 1164.5) rotate(-90)" font-size="24.5" fill="#231815" text-anchor="middle">A2</text>
<text transform="translate(577 1274.3) rotate(-90)" font-size="24.5" fill="#231815" text-anchor="middle">B</text>
<line x1="240" y1="1282" x2="263.8" y2="1282" stroke="#231815" stroke-width="2.1"/>
<line x1="240" y1="1319.5" x2="263.8" y2="1319.5" stroke="#231815" stroke-width="2.1"/>
<line x1="245" y1="1248.8" x2="245" y2="1353" stroke="#231815" stroke-width="2.1"/>
<path d="M245 1282 L241.6 1264 L248.4 1264 Z" fill="#231815"/>
<path d="M245 1319.5 L248.4 1337.5 L241.6 1337.5 Z" fill="#231815"/>
<text transform="translate(237.5 1300.5) rotate(-90)" font-size="24" fill="#231815" text-anchor="middle">T1</text>
<line x1="343.8" y1="1475.8" x2="470" y2="1475.8" stroke="#231815" stroke-width="2.1"/>
<path d="M343.8 1475.8 L365.8 1472 L365.8 1479.6 Z" fill="#231815"/>
<path d="M470 1475.8 L448 1479.6 L448 1472 Z" fill="#231815"/>
<text transform="translate(405 1471.3) scale(1.15 1)" font-size="20.5" fill="#231815" text-anchor="middle">N</text>
<line x1="309.3" y1="1444.5" x2="309.3" y2="1515.5" stroke="#231815" stroke-width="2.1"/>
<line x1="505.5" y1="1444.5" x2="505.5" y2="1515.5" stroke="#231815" stroke-width="2.1"/>
<line x1="309.3" y1="1510.8" x2="505.5" y2="1510.8" stroke="#231815" stroke-width="2.1"/>
<path d="M309.3 1510.8 L331.3 1507 L331.3 1514.6 Z" fill="#231815"/>
<path d="M505.5 1510.8 L483.5 1514.6 L483.5 1507 Z" fill="#231815"/>
<text x="397" y="1506.3" font-size="25" fill="#231815" text-anchor="middle" style="font-family:'Liberation Serif',serif">I</text>
<text transform="translate(402.5 1506.3) scale(1.05 1)" font-size="24" fill="#231815">2</text>
<line x1="269.5" y1="1325" x2="269.5" y2="1547.5" stroke="#231815" stroke-width="2.1"/>
<line x1="545.8" y1="1325" x2="545.8" y2="1547.5" stroke="#231815" stroke-width="2.1"/>
<line x1="269.5" y1="1542" x2="545.8" y2="1542" stroke="#231815" stroke-width="2.1"/>
<path d="M269.5 1542 L291.5 1538.2 L291.5 1545.8 Z" fill="#231815"/>
<path d="M545.8 1542 L523.8 1545.8 L523.8 1538.2 Z" fill="#231815"/>
<text transform="translate(390 1536.3) scale(1.12 1)" font-size="24" fill="#231815">T2</text>
<text transform="translate(566.3 1481.3) scale(1.12 1)" font-size="20.5" fill="#231815">M2</text>
<path d="M598.8 1484.5 L560 1484.5 L471.3 1440.5" fill="none" stroke="#231815" stroke-width="2.1"/>
<path d="M471.3 1440.5 L491.8 1446.4 L488.4 1453.2 Z" fill="#231815"/>
<path d="M1147.5 872.8 L1763.3 872.8 L1769.8 879.3 L1769.8 957 L1763.3 963.5 L1147.5 963.5 L1141 957 L1141 879.3 Z" fill="#dddddd" stroke="#231815" stroke-width="4.44" stroke-linejoin="miter"/>
<line x1="1398.8" y1="874.6" x2="1398.8" y2="962" stroke="#231815" stroke-width="1.99" stroke-dasharray="16.5 6.7"/>
<line x1="1416.3" y1="874.6" x2="1416.3" y2="962" stroke="#231815" stroke-width="1.99" stroke-dasharray="16.5 6.7"/>
<line x1="1495" y1="874.6" x2="1495" y2="962" stroke="#231815" stroke-width="1.99" stroke-dasharray="16.5 6.7"/>
<line x1="1512.5" y1="874.6" x2="1512.5" y2="962" stroke="#231815" stroke-width="1.99" stroke-dasharray="16.5 6.7"/>
<circle cx="1455.8" cy="917.5" r="16" fill="none" stroke="#231815" stroke-width="2.1"/>
<line x1="1428" y1="917.5" x2="1479" y2="917.5" stroke="#231815" stroke-width="1.99" stroke-dasharray="12 3 24 3 12"/>
<rect x="1415.5" y="965" width="79.5" height="120" fill="#fff"/>
<line x1="1415.5" y1="965" x2="1415.5" y2="1086" stroke="#231815" stroke-width="4.16"/>
<line x1="1495" y1="965" x2="1495" y2="1086" stroke="#231815" stroke-width="4.16"/>
<line x1="1417" y1="967.7" x2="1493.5" y2="967.7" stroke="#231815" stroke-width="1.67"/>
<path d="M1357.5 1428.7 L1357.5 1087.8 Q1357.5 1084.6 1360.7 1084.6 L1550.6 1084.6 Q1553.8 1084.6 1553.8 1087.8 L1553.8 1428.7 Z" fill="#fff" stroke="#231815" stroke-width="3.95" stroke-linejoin="miter"/>
<line x1="1359.5" y1="1084.6" x2="1551.8" y2="1084.6" stroke="#231815" stroke-width="4.97"/>
<line x1="1355.5" y1="1428.7" x2="1555.8" y2="1428.7" stroke="#231815" stroke-width="4.86"/>
<line x1="1358" y1="1133.8" x2="1553.8" y2="1133.8" stroke="#231815" stroke-width="2.1"/>
<line x1="1364" y1="1133.8" x2="1364" y2="1427.5" stroke="#231815" stroke-width="2.23"/>
<line x1="1548.2" y1="1133.8" x2="1548.2" y2="1427.5" stroke="#231815" stroke-width="2.23"/>
<line x1="1415.5" y1="1080" x2="1415.5" y2="1086" stroke="#231815" stroke-width="4.16"/>
<line x1="1495" y1="1080" x2="1495" y2="1086" stroke="#231815" stroke-width="4.16"/>
<path d="M1356 1262.6 L1346.5 1262.6 L1317.5 1271.4 L1317.5 1308.4 L1356 1308.4" fill="#fff" stroke="#231815" stroke-width="3.74" stroke-linejoin="miter"/>
<path d="M1555.4 1262.6 L1564.9 1262.6 L1593.9 1271.4 L1593.9 1308.4 L1555.4 1308.4" fill="#fff" stroke="#231815" stroke-width="3.74" stroke-linejoin="miter"/>
<circle cx="1393.6" cy="1354.2" r="19.6" fill="none" stroke="#231815" stroke-width="2.76"/>
<text x="1393.6" y="1365.7" font-size="39.3" fill="#231815" text-anchor="middle">A</text>
<circle cx="1518" cy="1352.3" r="19.6" fill="none" stroke="#231815" stroke-width="2.76"/>
<text x="1518" y="1366.5" font-size="39.3" fill="#231815" text-anchor="middle">B</text>
<line x1="1392.5" y1="1385" x2="1392.5" y2="1480.2" stroke="#231815" stroke-width="1.99" stroke-dasharray="22 4 5 4"/>
<path d="M1376.9 1389.7 L1374.9 1426.7" fill="none" stroke="#231815" stroke-width="3.0" stroke-dasharray="15.5 4.5 20"/>
<path d="M1408.1 1389.7 L1410.1 1426.7" fill="none" stroke="#231815" stroke-width="3.0" stroke-dasharray="15.5 4.5 20"/>
<line x1="1518.8" y1="1385" x2="1518.8" y2="1480.2" stroke="#231815" stroke-width="1.99" stroke-dasharray="22 4 5 4"/>
<path d="M1503.2 1389.7 L1501.2 1426.7" fill="none" stroke="#231815" stroke-width="3.0" stroke-dasharray="15.5 4.5 20"/>
<path d="M1534.3 1389.7 L1536.3 1426.7" fill="none" stroke="#231815" stroke-width="3.0" stroke-dasharray="15.5 4.5 20"/>
<line x1="1455.8" y1="866" x2="1455.8" y2="1434" stroke="#231815" stroke-width="1.99" stroke-dasharray="29.5 5 5.5 5"/>
<text x="1339.5" y="1003" font-size="21.5" fill="#231815">E2</text>
<circle cx="1325.6" cy="995.6" r="6.6" fill="none" stroke="#231815" stroke-width="1.67"/>
<line x1="1319.5" y1="1005.5" x2="1332.5" y2="985" stroke="#231815" stroke-width="1.67"/>
<path d="M1338.8 1007.5 L1375 1007.5 L1448.8 926.3" fill="none" stroke="#231815" stroke-width="2.1"/>
<path d="M1448.8 926.3 L1436.9 945.2 L1431.1 940 Z" fill="#231815"/>
<line x1="1140.5" y1="821" x2="1140.5" y2="872.5" stroke="#231815" stroke-width="2.1"/>
<line x1="1770" y1="821" x2="1770" y2="872.5" stroke="#231815" stroke-width="2.1"/>
<line x1="1140.5" y1="826.3" x2="1770" y2="826.3" stroke="#231815" stroke-width="2.1"/>
<path d="M1140.5 826.3 L1162.5 822.5 L1162.5 830.1 Z" fill="#231815"/>
<path d="M1770 826.3 L1748 830.1 L1748 822.5 Z" fill="#231815"/>
<text transform="translate(1437.5 822) scale(1.13 1)" font-size="22.5" fill="#231815">G2</text>
<line x1="1772" y1="873" x2="1881.3" y2="873" stroke="#231815" stroke-width="2.1"/>
<line x1="1772" y1="963.3" x2="1847.5" y2="963.3" stroke="#231815" stroke-width="2.1"/>
<line x1="1500" y1="1077" x2="1814.5" y2="1077" stroke="#231815" stroke-width="2.1"/>
<line x1="1557.5" y1="1084.5" x2="1814.5" y2="1084.5" stroke="#231815" stroke-width="2.1"/>
<line x1="1560" y1="1133.3" x2="1780.5" y2="1133.3" stroke="#231815" stroke-width="2.1"/>
<line x1="1557.5" y1="1429" x2="1881" y2="1429" stroke="#231815" stroke-width="2.1"/>
<line x1="1876" y1="873" x2="1876" y2="1429" stroke="#231815" stroke-width="2.1"/>
<path d="M1876 873 L1879.8 895 L1872.2 895 Z" fill="#231815"/>
<path d="M1876 1429 L1872.2 1407 L1879.8 1407 Z" fill="#231815"/>
<line x1="1842.4" y1="873" x2="1842.4" y2="963.3" stroke="#231815" stroke-width="2.1"/>
<path d="M1842.4 873 L1846.2 895 L1838.6 895 Z" fill="#231815"/>
<path d="M1842.4 963.3 L1838.6 941.3 L1846.2 941.3 Z" fill="#231815"/>
<line x1="1842.4" y1="963.3" x2="1842.4" y2="1429" stroke="#231815" stroke-width="2.1"/>
<path d="M1842.4 963.3 L1846.2 985.3 L1838.6 985.3 Z" fill="#231815"/>
<path d="M1842.4 1429 L1838.6 1407 L1846.2 1407 Z" fill="#231815"/>
<line x1="1809" y1="963.3" x2="1809" y2="1077" stroke="#231815" stroke-width="2.1"/>
<path d="M1809 963.3 L1812.8 985.3 L1805.2 985.3 Z" fill="#231815"/>
<path d="M1809 1077 L1805.2 1055 L1812.8 1055 Z" fill="#231815"/>
<line x1="1808.8" y1="1084.5" x2="1808.8" y2="1429" stroke="#231815" stroke-width="2.1"/>
<path d="M1808.8 1084.5 L1812.6 1106.5 L1805 1106.5 Z" fill="#231815"/>
<path d="M1808.8 1429 L1805 1407 L1812.6 1407 Z" fill="#231815"/>
<line x1="1775.2" y1="1084.5" x2="1775.2" y2="1133.3" stroke="#231815" stroke-width="2.1"/>
<path d="M1775.2 1084.5 L1779 1104.5 L1771.4 1104.5 Z" fill="#231815"/>
<path d="M1775.2 1133.3 L1771.4 1113.3 L1779 1113.3 Z" fill="#231815"/>
<text transform="translate(1832.3 908) rotate(-90)" font-size="24.5" fill="#231815" text-anchor="middle" textLength="33" lengthAdjust="spacing">D3</text>
<rect x="1812" y="929.3" width="17" height="17" fill="none" stroke="#231815" stroke-width="1.5"/>
<text transform="translate(1804.5 1021.5) rotate(-90)" font-size="24.5" fill="#231815" text-anchor="middle">ST</text>
<text transform="translate(1764.5 1111.3) rotate(-90)" font-size="24.5" fill="#231815" text-anchor="middle">C2</text>
<text transform="translate(1873.5 1143) rotate(-90)" font-size="24.5" fill="#231815" text-anchor="middle">A3</text>
<text transform="translate(1840.5 1199.5) rotate(-90)" font-size="24.5" fill="#231815" text-anchor="middle">A1</text>
<text transform="translate(1803.6 1276) rotate(-90)" font-size="24.5" fill="#231815" text-anchor="middle">B</text>
<line x1="1288.8" y1="1271.8" x2="1312" y2="1271.8" stroke="#231815" stroke-width="2.1"/>
<line x1="1288.8" y1="1308" x2="1312" y2="1308" stroke="#231815" stroke-width="2.1"/>
<line x1="1293.3" y1="1237.5" x2="1293.3" y2="1342.5" stroke="#231815" stroke-width="2.1"/>
<path d="M1293.3 1271.8 L1289.9 1253.8 L1296.7 1253.8 Z" fill="#231815"/>
<path d="M1293.3 1308 L1296.7 1326 L1289.9 1326 Z" fill="#231815"/>
<text transform="translate(1286.5 1291.5) rotate(-90)" font-size="24" fill="#231815" text-anchor="middle">T1</text>
<line x1="1392.5" y1="1475" x2="1518.8" y2="1475" stroke="#231815" stroke-width="2.1"/>
<path d="M1392.5 1475 L1414.5 1471.2 L1414.5 1478.8 Z" fill="#231815"/>
<path d="M1518.8 1475 L1496.8 1478.8 L1496.8 1471.2 Z" fill="#231815"/>
<text transform="translate(1457.5 1470) scale(1.15 1)" font-size="20.5" fill="#231815" text-anchor="middle">N</text>
<line x1="1357" y1="1433.8" x2="1357" y2="1516.3" stroke="#231815" stroke-width="2.1"/>
<line x1="1553.8" y1="1433.8" x2="1553.8" y2="1516.3" stroke="#231815" stroke-width="2.1"/>
<line x1="1357" y1="1511.3" x2="1553.8" y2="1511.3" stroke="#231815" stroke-width="2.1"/>
<path d="M1357 1511.3 L1379 1507.5 L1379 1515.1 Z" fill="#231815"/>
<path d="M1553.8 1511.3 L1531.8 1515.1 L1531.8 1507.5 Z" fill="#231815"/>
<text x="1448" y="1506.3" font-size="25" fill="#231815" text-anchor="middle" style="font-family:'Liberation Serif',serif">I</text>
<text transform="translate(1453.5 1506.3) scale(1.05 1)" font-size="24" fill="#231815">2</text>
<line x1="1318" y1="1313.8" x2="1318" y2="1550" stroke="#231815" stroke-width="2.1"/>
<line x1="1593.8" y1="1313.8" x2="1593.8" y2="1550" stroke="#231815" stroke-width="2.1"/>
<line x1="1318" y1="1545.5" x2="1593.8" y2="1545.5" stroke="#231815" stroke-width="2.1"/>
<path d="M1318 1545.5 L1340 1541.7 L1340 1549.3 Z" fill="#231815"/>
<path d="M1593.8 1545.5 L1571.8 1549.3 L1571.8 1541.7 Z" fill="#231815"/>
<text transform="translate(1447.5 1540.5) scale(1.12 1)" font-size="24" fill="#231815">T2</text>
<text transform="translate(1613.8 1476.3) scale(1.12 1)" font-size="20.5" fill="#231815">M2</text>
<path d="M1647.5 1479.5 L1608.8 1479.5 L1518.8 1431.3" fill="none" stroke="#231815" stroke-width="2.1"/>
<path d="M1518.8 1431.3 L1539.1 1437.9 L1535.5 1444.6 Z" fill="#231815"/>
<rect x="772" y="1272.3" width="415.3" height="254.5" fill="#fff" stroke="#3e3a39" stroke-width="1.9"/>
<line x1="861.8" y1="1272.3" x2="861.8" y2="1526.8" stroke="#3e3a39" stroke-width="1.86"/>
<line x1="772" y1="1357.5" x2="1187.3" y2="1357.5" stroke="#3e3a39" stroke-width="1.86"/>
<line x1="772" y1="1440" x2="1187.3" y2="1440" stroke="#3e3a39" stroke-width="1.86"/>
<circle cx="815" cy="1310.3" r="20.3" fill="none" stroke="#3e3a39" stroke-width="1.75"/>
<text x="815" y="1322.5" font-size="34" fill="#3e3a39" text-anchor="middle">A</text>
<circle cx="815" cy="1394.5" r="20.3" fill="none" stroke="#3e3a39" stroke-width="1.75"/>
<text x="815" y="1406.7" font-size="34" fill="#3e3a39" text-anchor="middle">B</text>
<circle cx="815" cy="1485.6" r="20.3" fill="none" stroke="#3e3a39" stroke-width="1.75"/>
<text x="815" y="1497.8" font-size="34" fill="#3e3a39" text-anchor="middle">C</text>
<text x="872.5" y="1316.5" font-size="33.3" fill="#3e3a39" textLength="136" lengthAdjust="spacing">夹持油孔</text>
<text x="873.8" y="1343.9" font-size="27.5" fill="#3e3a39" textLength="133.7" lengthAdjust="spacing">clamp port</text>
<text x="872.5" y="1398" font-size="33.3" fill="#3e3a39" textLength="136" lengthAdjust="spacing">放松油孔</text>
<text x="873.8" y="1427.8" font-size="27.5" fill="#3e3a39" textLength="145" lengthAdjust="spacing">release port</text>
<text x="872.5" y="1483.3" font-size="33.3" fill="#3e3a39" textLength="66" lengthAdjust="spacing">锥度</text>
<text transform="translate(955 1483.5) scale(0.9 1)" font-size="33" fill="#3e3a39" textLength="246.7" lengthAdjust="spacing">1: 10 (2.85°)</text>
<text x="873.8" y="1510.3" font-size="27.5" fill="#3e3a39" textLength="64" lengthAdjust="spacing">taper</text>
<line x1="18.2" y1="1745.3" x2="429.9" y2="1830.8" stroke="#fff" stroke-width="2.3"/>
<text x="34.5" y="1797.5" font-size="24.5" fill="#fff" textLength="48.5" lengthAdjust="spacing">标记</text>
<text x="48.3" y="1822.7" font-size="20.5" fill="#fff" textLength="37.5" lengthAdjust="spacing">sign</text>
<text x="352" y="1781.5" font-size="24.5" fill="#fff" textLength="48.5" lengthAdjust="spacing">内径</text>
<text x="360.5" y="1807.7" font-size="20.5" fill="#fff" textLength="41" lengthAdjust="spacing">Bore</text>
<text x="120.5" y="1866" font-size="24.7" fill="#3e3a39" textLength="207" lengthAdjust="spacing">转角行程/下压行程</text>
<text x="67.7" y="1890" font-size="22" fill="#3e3a39" textLength="310.5" lengthAdjust="spacing">swing stroke / clamping stroke</text>
</svg>
</div>
</body></html>
